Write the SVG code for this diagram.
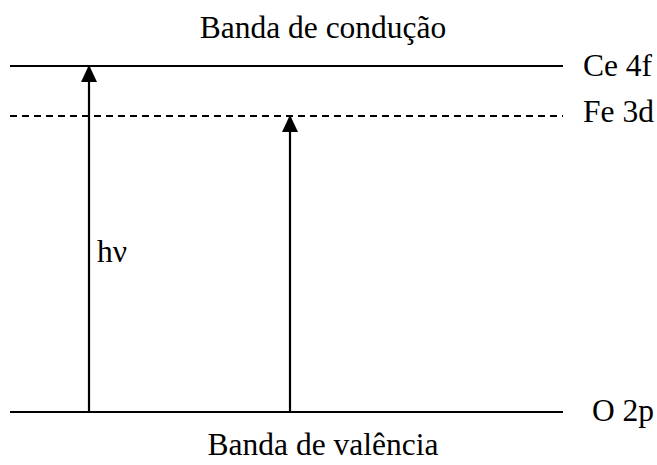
<svg xmlns="http://www.w3.org/2000/svg" width="657" height="465" viewBox="0 0 657 465">
<style>
text{font-family:"Liberation Serif","Times New Roman",serif;font-size:31.5px;fill:#000}
.lv{stroke:#000;stroke-width:2.2;fill:none}
.dash{stroke-dasharray:7 5}
</style>
<defs>
<marker id="ah" markerWidth="17" markerHeight="16" viewBox="0 0 17 16" refX="16" refY="8" orient="auto" markerUnits="userSpaceOnUse">
<path d="M0,0 L17,8 L0,16 Z" fill="#000"/>
</marker>
</defs>
<rect width="657" height="465" fill="#fff"/>
<g id="ce4f">
<line class="lv" x1="10" y1="66" x2="563" y2="66"/>
<text x="583" y="76">Ce 4f</text>
</g>
<g id="fe3d">
<line class="lv dash" x1="10" y1="116" x2="563" y2="116"/>
<text x="583" y="122">Fe 3d</text>
</g>
<g id="o2p">
<line class="lv" x1="10" y1="412" x2="563" y2="412"/>
<text x="592" y="421">O 2p</text>
</g>
<g id="bandaConducao"><text x="323" y="38" text-anchor="middle">Banda de condução</text></g>
<g id="bandaValencia"><text x="323" y="455" text-anchor="middle">Banda de valência</text></g>
<g id="connectors">
<line class="lv" x1="89" y1="412" x2="89" y2="66" marker-end="url(#ah)"/>
<line class="lv" x1="290" y1="412" x2="290" y2="116" marker-end="url(#ah)"/>
</g>
<g id="hv"><text x="97" y="262">hν</text></g>
</svg>
